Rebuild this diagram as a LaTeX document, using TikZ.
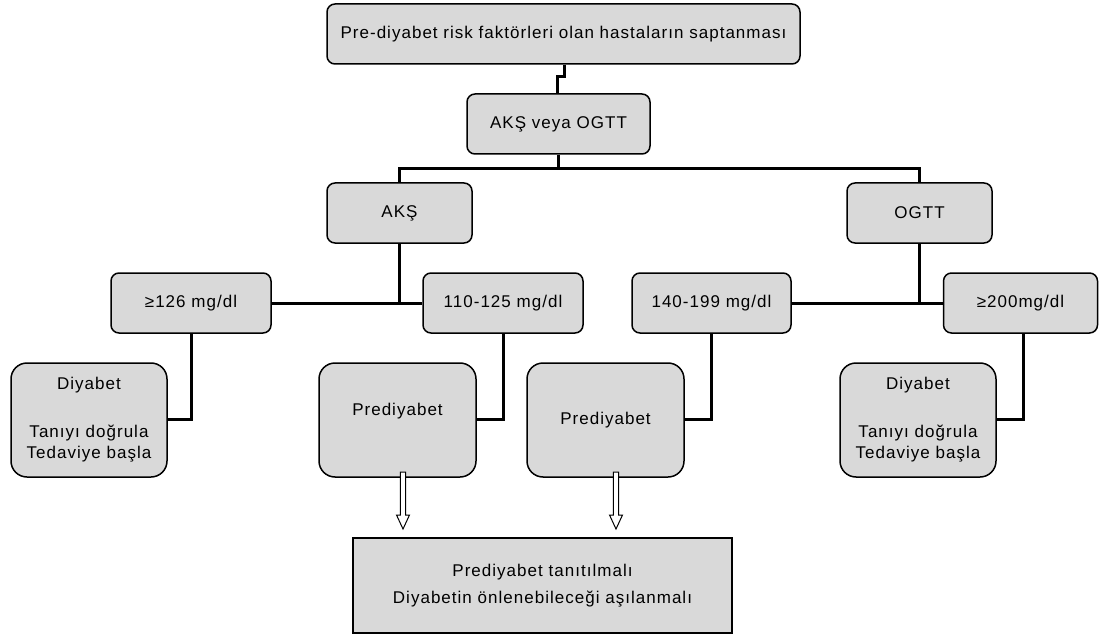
\documentclass[tikz,border=0pt]{standalone}
\usepackage{fontspec}
\setmainfont{Liberation Sans}
\newfontfamily\spacedfont{Liberation Sans}[LetterSpace=6]
\usetikzlibrary{calc}
\definecolor{boxgray}{HTML}{D9D9D9}
\tikzset{
  box/.style={draw=black, line width=1.5pt, fill=boxgray, rounded corners=8pt, inner sep=0pt, align=center, font=\spacedfont\fontsize{17}{21}\selectfont},
  bigbox/.style={box, rounded corners=16pt},
  plainbox/.style={box, rounded corners=0pt},
  conn/.style={draw=black, line width=3pt},
  hollow/.pic={\draw[fill=white, line width=1pt, line join=miter] (-2.7,0) -- (-2.7,43) -- (-6.5,43) -- (0,57) -- (6.5,43) -- (2.7,43) -- (2.7,0) -- cycle;}
}
\begin{document}
\begin{tikzpicture}[x=1pt, y=-1pt]
\useasboundingbox (0,0) rectangle (1099,636);
% level 0-1
\node[box, minimum width=473pt, minimum height=60pt] (top) at (563.5,34) {Pre-diyabet risk faktörleri olan hastaların saptanması};
\node[box, minimum width=183pt, minimum height=60pt] (aveo) at (558.5,124) {AKŞ veya OGTT};
% level 2
\node[box, minimum width=145pt, minimum height=60pt] (aks) at (399.5,213) {AKŞ};
\node[box, minimum width=145pt, minimum height=60pt] (ogtt) at (919.5,213) {OGTT};
% level 3
\node[box, minimum width=160pt, minimum height=60pt] (g126) at (191,303) {≥126 mg/dl};
\node[box, minimum width=160pt, minimum height=60pt] (r110) at (503,303) {110-125 mg/dl};
\node[box, minimum width=159pt, minimum height=60pt] (r140) at (711.5,303) {140-199 mg/dl};
\node[box, minimum width=154pt, minimum height=60pt] (g200) at (1020.5,303) {≥200mg/dl};
% level 4
\node[bigbox, minimum width=156pt, minimum height=114pt] (d1) at (89,420) {Diyabet\\[27pt]Tanıyı doğrula\\Tedaviye başla};
\node[bigbox, minimum width=157pt, minimum height=114pt, text depth=22pt] (p1) at (397.5,420) {Prediyabet};
\node[bigbox, minimum width=157pt, minimum height=114pt] (p2) at (605.5,420) {Prediyabet};
\node[bigbox, minimum width=156pt, minimum height=114pt] (d2) at (918,420) {Diyabet\\[27pt]Tanıyı doğrula\\Tedaviye başla};
% bottom
\node[plainbox, minimum width=379pt, minimum height=95pt] (bot) at (542.5,585.5) {Prediyabet tanıtılmalı\\[6pt]Diyabetin önlenebileceği aşılanmalı};

% connectors
\coordinate (jog) at (564,77);
\draw[conn] (top.south -| jog) -- (jog) -- (557,77) -- (aveo.north -| 557,0);
\coordinate (bar) at (558,169);
\draw[conn] (aveo.south -| bar) -- (bar);
\draw[conn] (aks.north) -- (aks.north |- bar) -- (ogtt.north |- bar) -- (ogtt.north);
\draw[conn] (aks.south) -- (aks.south |- g126.east);
\draw[conn] (g126.east) -- (r110.west);
\draw[conn] (ogtt.south) -- (ogtt.south |- r140.east);
\draw[conn] (r140.east) -- (g200.west);
\draw[conn] (g126.south) -- (g126.south |- 0,419) -- (d1.east |- 0,419);
\draw[conn] (r110.south) -- (r110.south |- 0,419) -- (p1.east |- 0,419);
\draw[conn] (r140.south) -- (r140.south |- 0,419) -- (p2.east |- 0,419);
\draw[conn] ([xshift=3pt]g200.south) -- ([xshift=3pt]g200.south |- 0,419) -- (d2.east |- 0,419);

% hollow arrows
\coordinate (a1) at (403,472);
\coordinate (a2) at (616,472);
\pic at (a1) {hollow};
\pic at (a2) {hollow};
\end{tikzpicture}
\end{document}
